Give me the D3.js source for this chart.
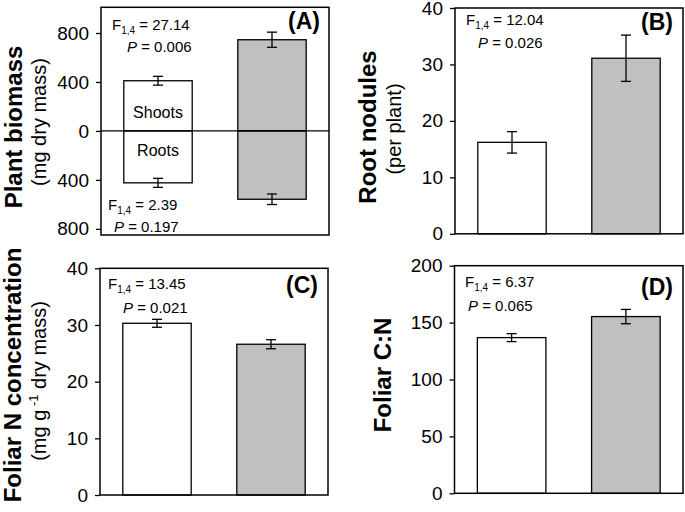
<!DOCTYPE html>
<html>
<head>
<meta charset="utf-8">
<script src="https://cdn.jsdelivr.net/npm/d3@7"></script>
<style>
  body { margin: 0; background: #fff; }
  svg text { font-family: "Liberation Sans", Arial, sans-serif; white-space: pre; fill: #000; }
</style>
</head>
<body>
<div id="chart"></div>
<script>
// Two groups per panel (white = first, grey = second)
const groups = ["control", "treated"];
const fills = ["#ffffff", "#c0c0c0"];

// (A) biomass, shoots above zero and roots below
const shootMass = [410, 745];
const shootSE = [36, 62];
const rootMass = [424, 558];
const rootSE = [37, 43];
// (B) root nodules per plant
const nodules = [16.2, 31.1];
const nodulesSE = [1.9, 4.1];
// (C) foliar N concentration
const foliarN = [30.3, 26.6];
const foliarNSE = [0.7, 0.8];
// (D) foliar C:N
const foliarCN = [136.8, 155.3];
const foliarCNSE = [3.5, 6.3];

// tick values
const biomassTicks = [-800, -400, 0, 400, 800];
const nodulesTicks = [0, 10, 20, 30, 40];
const foliarNTicks = [0, 10, 20, 30, 40];
const foliarCNTicks = [0, 50, 100, 150, 200];

// statistics text [F, P]
const statsShoots = ["27.14", "0.006"];
const statsRoots = ["2.39", "0.197"];
const statsNodules = ["12.04", "0.026"];
const statsFoliarN = ["13.45", "0.021"];
const statsFoliarCN = ["6.37", "0.065"];

const svg = d3.select("#chart")
    .append("svg")
    .attr("width", 685)
    .attr("height", 512);

function makePanel(cfg) {
    const g = svg.append("g")
        .attr("transform", `translate(${cfg.left},${cfg.top})`);

    const x = d3.scaleBand()
        .domain(groups)
        .range([0, cfg.width])
        .paddingInner(0.4)
        .paddingOuter(0.2);

    const y = d3.scaleLinear()
        .domain(cfg.domain)
        .range([cfg.height, 0]);

    g.append("g")
        .call(d3.axisLeft(y)
            .tickValues(cfg.ticks)
            .tickSize(5)
            .tickPadding(7)
            .tickFormat(d => Math.abs(d)))
        .call(a => a.select(".domain").remove())
        .call(a => a.selectAll("line").attr("stroke", "#000").attr("stroke-width", 1.3))
        .call(a => a.selectAll("text")
            .style("font-size", "19px")
            .attr("fill", "#000"));

    return {g, x, y, cfg};
}

// bars with error bars; sign = -1 draws downward from zero
function drawBars(p, values, errs, sign) {
    const {g, x, y} = p;
    g.selectAll(null)
        .data(values)
        .enter().append("rect")
        .attr("x", (d, i) => x(groups[i]))
        .attr("width", x.bandwidth())
        .attr("y", d => Math.min(y(0), y(sign * d)))
        .attr("height", d => Math.abs(y(0) - y(sign * d)))
        .attr("fill", (d, i) => fills[i])
        .attr("stroke", "#000")
        .attr("stroke-width", 1.3);

    const eb = g.selectAll(null)
        .data(values)
        .enter().append("g")
        .attr("transform", (d, i) => `translate(${x(groups[i]) + x.bandwidth() / 2},0)`);

    eb.append("line")
        .attr("y1", (d, i) => y(sign * (d - errs[i])))
        .attr("y2", (d, i) => y(sign * (d + errs[i])))
        .attr("stroke", "#000").attr("stroke-width", 1.3);
    [-1, 1].forEach(s => {
        eb.append("line")
            .attr("x1", -5).attr("x2", 5)
            .attr("y1", (d, i) => y(sign * (d + s * errs[i])))
            .attr("y2", (d, i) => y(sign * (d + s * errs[i])))
            .attr("stroke", "#000").attr("stroke-width", 1.3);
    });
}

function drawFrame(p) {
    p.g.append("rect")
        .attr("width", p.cfg.width)
        .attr("height", p.cfg.height)
        .attr("fill", "none")
        .attr("stroke", "#000")
        .attr("stroke-width", 1.5);
}

function statLines(x, y, stats) {
    const t = svg.append("text")
        .attr("x", x[0]).attr("y", y[0])
        .style("font-size", "15px");
    t.append("tspan").text("F");
    t.append("tspan").attr("dy", 4).style("font-size", "10px").text("1,4");
    t.append("tspan").attr("dy", -4).text(" = " + stats[0]);

    const p = svg.append("text")
        .attr("x", x[1]).attr("y", y[1])
        .style("font-size", "15px");
    p.append("tspan").style("font-style", "italic").text("P");
    p.append("tspan").text(" = " + stats[1]);
}

function panelLetter(label, x, y) {
    svg.append("text")
        .attr("x", x).attr("y", y)
        .attr("text-anchor", "end")
        .style("font-size", "23px")
        .style("font-weight", "bold")
        .text(label);
}

function yLabel(text, x, y, size, bold) {
    return svg.append("text")
        .attr("transform", `translate(${x},${y}) rotate(-90)`)
        .attr("text-anchor", "middle")
        .style("font-size", size + "px")
        .style("font-weight", bold ? "bold" : "normal")
        .text(text);
}

// Panel A
const pA = makePanel({left: 101, top: 7.3, width: 228, height: 227.7, domain: [-850, 1010], ticks: biomassTicks});
drawBars(pA, shootMass, shootSE, 1);
drawBars(pA, rootMass, rootSE, -1);
pA.g.append("line")
    .attr("x1", 0).attr("x2", pA.cfg.width)
    .attr("y1", pA.y(0)).attr("y2", pA.y(0))
    .attr("stroke", "#000").attr("stroke-width", 1.3);
pA.g.append("text")
    .attr("x", pA.x(groups[0]) + pA.x.bandwidth() / 2)
    .attr("y", pA.y(0) - 13)
    .attr("text-anchor", "middle")
    .style("font-size", "16px")
    .text("Shoots");
pA.g.append("text")
    .attr("x", pA.x(groups[0]) + pA.x.bandwidth() / 2)
    .attr("y", pA.y(0) + 25)
    .attr("text-anchor", "middle")
    .style("font-size", "16px")
    .text("Roots");
drawFrame(pA);

// Panel B
const pB = makePanel({left: 455, top: 8, width: 228, height: 225.8, domain: [0, 40], ticks: nodulesTicks});
drawBars(pB, nodules, nodulesSE, 1);
drawFrame(pB);

// Panel C
const pC = makePanel({left: 100, top: 268.3, width: 228, height: 226.7, domain: [0, 40], ticks: foliarNTicks});
drawBars(pC, foliarN, foliarNSE, 1);
drawFrame(pC);

// Panel D
const pD = makePanel({left: 454.5, top: 265.7, width: 228.5, height: 227.6, domain: [0, 200], ticks: foliarCNTicks});
drawBars(pD, foliarCN, foliarCNSE, 1);
drawFrame(pD);

// statistics
statLines([112, 127], [30, 52], statsShoots);
statLines([108, 114], [210, 232], statsRoots);
statLines([466, 478], [25, 48], statsNodules);
statLines([108, 123], [289, 313], statsFoliarN);
statLines([465, 468], [287, 311], statsFoliarCN);

// panel letters
panelLetter("(A)", 320, 29);
panelLetter("(B)", 673, 30);
panelLetter("(C)", 318, 293);
panelLetter("(D)", 673, 295);

// axis titles
yLabel("Plant biomass", 22, 127, 24, true);
yLabel("(mg dry mass)", 46, 122, 20, false);
yLabel("Root nodules", 376, 127, 24, true);
yLabel("(per plant)", 401, 129, 20, false);
yLabel("Foliar N concentration", 21, 375, 24, true);
const sub = yLabel("(mg g", 46, 381, 20, false);
sub.append("tspan").attr("dy", -8).style("font-size", "13px").text(" -1");
sub.append("tspan").attr("dy", 8).text(" dry mass)");
yLabel("Foliar C:N", 391, 375, 24, true);
</script>
</body>
</html>
